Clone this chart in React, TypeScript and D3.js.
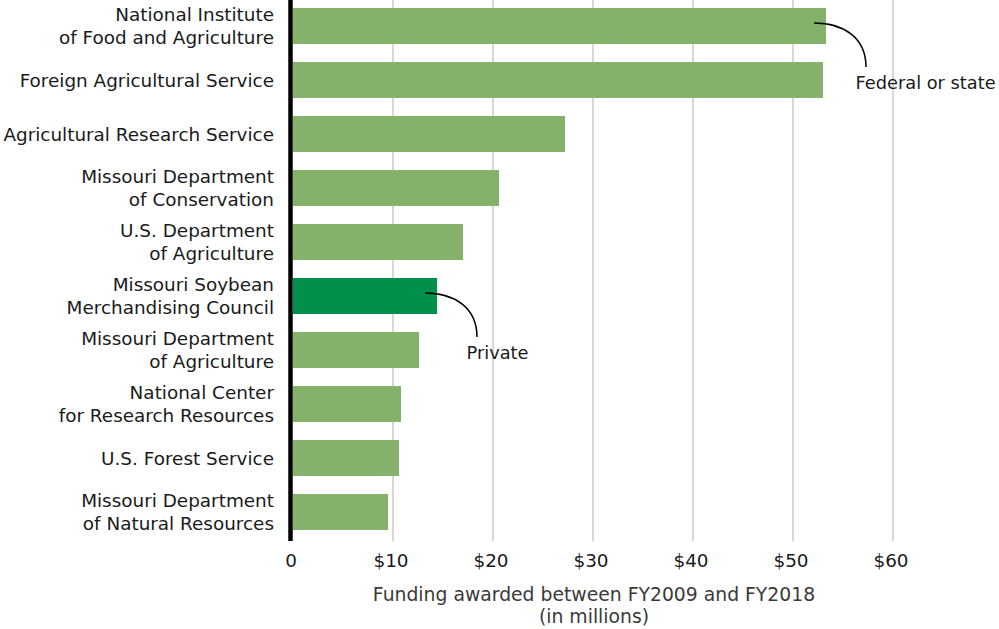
import React from "react";
import * as d3 from "d3";

const categories: string[][] = [
  ["National Institute", "of Food and Agriculture"],
  ["Foreign Agricultural Service"],
  ["Agricultural Research Service"],
  ["Missouri Department", "of Conservation"],
  ["U.S. Department", "of Agriculture"],
  ["Missouri Soybean", "Merchandising Council"],
  ["Missouri Department", "of Agriculture"],
  ["National Center", "for Research Resources"],
  ["U.S. Forest Service"],
  ["Missouri Department", "of Natural Resources"],
];
const values: number[] = [53.3, 53.0, 27.2, 20.6, 17.0, 14.4, 12.6, 10.8, 10.6, 9.5];
const sectors: string[] = ["federal", "federal", "federal", "federal", "federal", "private", "federal", "federal", "federal", "federal"];
const tickValues: number[] = [0, 10, 20, 30, 40, 50, 60];
const tickLabels: string[] = ["0", "$10", "$20", "$30", "$40", "$50", "$60"];
const axisTitle: string[] = ["Funding awarded between FY2009 and FY2018", "(in millions)"];
const annotations = [
  { index: 0, text: "Federal or state" },
  { index: 5, text: "Private" },
];

const W = 999;
const H = 629;
const FONT = "'DejaVu Sans', sans-serif";
const FS = 18.4;
const colors: Record<string, string> = { federal: "#84b26b", private: "#00904b" };

export default function App() {
  const keys = categories.map((c) => c.join(" "));
  const x = d3.scaleLinear().domain([0, 60]).range([293, 893]);
  const y = d3.scaleBand<string>().domain(keys).range([-1, 539]).paddingInner(1 / 3).paddingOuter(1 / 6);
  const bw = y.bandwidth();

  return (
    <svg width={W} height={H} style={{ position: "fixed", left: 0, top: 0, display: "block", fontFamily: FONT }}>
      <rect width={W} height={H} fill="#fff" />
      {tickValues.slice(1).map((t) => (
        <line key={t} x1={x(t)} x2={x(t)} y1={0} y2={541} stroke="#bdbdbd" strokeWidth={1.2} />
      ))}
      {values.map((v, i) => (
        <rect key={keys[i]} x={x(0)} y={y(keys[i])} width={x(v) - x(0)} height={bw} fill={colors[sectors[i]]} />
      ))}
      <line x1={x(0) - 2.5} x2={x(0) - 2.5} y1={0} y2={541} stroke="#000" strokeWidth={4.5} />
      {categories.map((lines, i) => {
        const cy = (y(keys[i]) as number) + bw / 2;
        const lh = 23.5;
        const start = cy - ((lines.length - 1) * lh) / 2 + 6.5;
        return (
          <text key={keys[i]} textAnchor="end" fontSize={FS} fill="#1a1a1a">
            {lines.map((l, j) => (
              <tspan key={j} x={x(0) - 19} y={start + j * lh}>{l}</tspan>
            ))}
          </text>
        );
      })}
      {tickValues.map((t, i) => (
        <text key={t} x={x(t) - 2} y={567} textAnchor="middle" fontSize={FS} fill="#1a1a1a">{tickLabels[i]}</text>
      ))}
      {axisTitle.map((l, j) => (
        <text key={j} x={(x(0) + x(60)) / 2 + 1} y={601 + j * 22} textAnchor="middle" fontSize={18.8} fill="#3a3a3a">{l}</text>
      ))}
      {annotations.map((a) => {
        const k = keys[a.index];
        const cy = (y(k) as number) + bw / 2;
        const x0 = x(values[a.index]) - 12;
        const x1 = x0 + 52;
        const y1 = cy + 41;
        const path = `M${x0},${cy - 3} C${x0 + 30},${cy - 3} ${x1},${cy + 12} ${x1},${y1}`;
        return (
          <g key={a.text}>
            <path d={path} fill="none" stroke="#000" strokeWidth={1.5} />
            <text x={x1 - 10.5} y={y1 + 22} fontSize={17.8} fill="#1a1a1a">{a.text}</text>
          </g>
        );
      })}
    </svg>
  );
}
